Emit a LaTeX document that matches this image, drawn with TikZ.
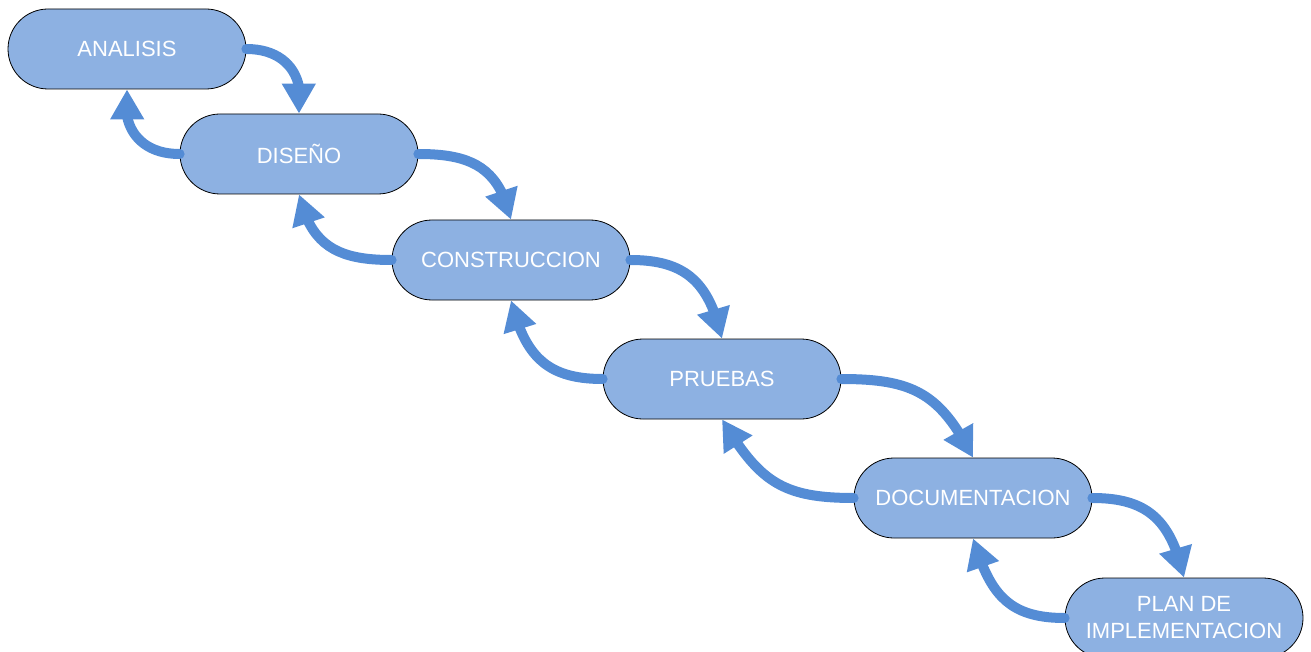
\documentclass[tikz,border=0pt]{standalone}
\usepackage{fontspec}
\setmainfont{Liberation Sans}
\usetikzlibrary{arrows.meta,bending}
\definecolor{stagefill}{RGB}{141,177,226}
\definecolor{flowblue}{RGB}{84,140,213}
\begin{document}
\begin{tikzpicture}[x=1pt,y=-1pt,
  stage/.style={draw=black, line width=0.8pt, fill=stagefill,
    rounded corners=40pt, minimum width=238pt, minimum height=80pt,
    text=white, font=\fontsize{22}{27}\selectfont, align=center, inner sep=0pt},
  flow/.style={draw=flowblue, line width=10pt, line cap=round,
    -{Triangle[width=32pt,length=30pt,fill=flowblue,flex]}}]
\useasboundingbox (0,0) rectangle (1311,652);

% process stages
\node[stage] (s1) at (127,49)   {ANALISIS};
\node[stage] (s2) at (299,154)  {DISEÑO};
\node[stage] (s3) at (511,260)  {CONSTRUCCION};
\node[stage] (s4) at (722,379)  {PRUEBAS};
\node[stage] (s5) at (973,498)  {DOCUMENTACION};
\node[stage] (s6) at (1184,618) {PLAN DE\\IMPLEMENTACION};

% forward transitions
\foreach \a/\b/\i in {s1/s2/80, s2/s3/103, s3/s4/103, s4/s5/117, s5/s6/103}
  \draw[flow] (\a.east) to[out=0, in=\i, looseness=1.2] (\b.north);

% feedback transitions
\foreach \a/\b/\i in {s2/s1/-100, s3/s2/-77, s4/s3/-76, s5/s4/-59, s6/s5/-73}
  \draw[flow] (\a.west) to[out=180, in=\i, looseness=1.2] (\b.south);
\end{tikzpicture}
\end{document}
